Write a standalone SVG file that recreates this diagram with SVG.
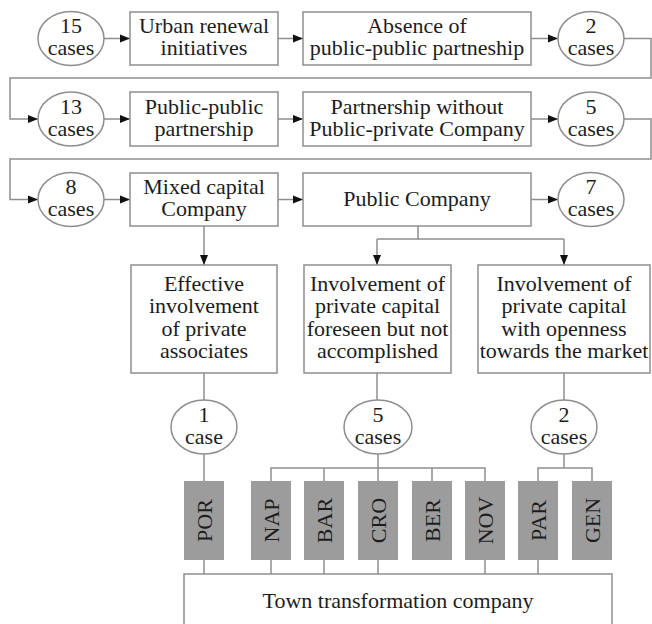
<svg xmlns="http://www.w3.org/2000/svg" width="652" height="624" viewBox="0 0 652 624">
<defs>
<style>
.box{fill:#fff;stroke:#8e8e8e;stroke-width:1.5}
.ell{fill:#fff;stroke:#8e8e8e;stroke-width:1.5}
.city{fill:#9c9c9c;stroke:none}
.ln{fill:none;stroke:#8e8e8e;stroke-width:1.5}
.arr{fill:none;stroke:#8e8e8e;stroke-width:1.5;marker-end:url(#ah)}
text{font-family:"Liberation Serif","Times New Roman",serif;font-size:22px;fill:#1c1c1c;text-anchor:middle}
</style>
<marker id="ah" markerUnits="userSpaceOnUse" markerWidth="10" markerHeight="10" viewBox="0 0 10 10" refX="10" refY="5" orient="auto">
<path d="M0,1 L10,5 L0,9 Z" fill="#111"/>
</marker>
</defs>
<rect width="652" height="624" fill="#fff"/>
<g id="connectors">
<path class="arr" d="M104,38.5 H130"/>
<path class="arr" d="M278,38.5 H303"/>
<path class="arr" d="M531,38.5 H558"/>
<path class="arr" d="M624,38.5 H651 V78 H10 V119 H38"/>
<path class="arr" d="M104,119 H130"/>
<path class="arr" d="M278,119 H303"/>
<path class="arr" d="M531,119 H558"/>
<path class="arr" d="M624,119 H651 V159 H10 V199.5 H38"/>
<path class="arr" d="M104,199.5 H130"/>
<path class="arr" d="M278,199.5 H303"/>
<path class="arr" d="M531,199.5 H558"/>
<path class="arr" d="M204,226 V265"/>
<path class="ln" d="M418,226 V239 H377"/>
<path class="arr" d="M377,239 V265"/>
<path class="ln" d="M418,239 H564"/>
<path class="arr" d="M564,239 V265"/>
<path class="ln" d="M204,373 V400"/>
<path class="ln" d="M377,373 V400"/>
<path class="ln" d="M564,373 V400"/>
<path class="ln" d="M204,454 V481"/>
<path class="ln" d="M378,454 V481"/>
<path class="ln" d="M271,481 V468 H485 V481"/>
<path class="ln" d="M324,468 V481"/>
<path class="ln" d="M432,468 V481"/>
<path class="ln" d="M564,454 V468"/>
<path class="ln" d="M538,481 V468 H592 V481"/>
<path class="ln" d="M204,560 V574"/>
<path class="ln" d="M271,560 V574"/>
<path class="ln" d="M324,560 V574"/>
<path class="ln" d="M378,560 V574"/>
<path class="ln" d="M485,560 V574"/>
<path class="ln" d="M538,560 V574"/>
</g>
<g id="n15"><ellipse class="ell" cx="71" cy="38.5" rx="33" ry="27"/><text x="71" y="33">15<tspan x="71" dy="22">cases</tspan></text></g>
<g id="urban"><rect class="box" x="130" y="12" width="148" height="53"/><text x="204" y="33">Urban renewal<tspan x="204" dy="22">initiatives</tspan></text></g>
<g id="absence"><rect class="box" x="303" y="12" width="228" height="53"/><text x="417" y="33">Absence of<tspan x="417" dy="22">public-public partneship</tspan></text></g>
<g id="n2a"><ellipse class="ell" cx="591" cy="38.5" rx="33" ry="27"/><text x="591" y="33">2<tspan x="591" dy="22">cases</tspan></text></g>
<g id="n13"><ellipse class="ell" cx="71" cy="119" rx="33" ry="27"/><text x="71" y="113.5">13<tspan x="71" dy="22">cases</tspan></text></g>
<g id="ppp"><rect class="box" x="130" y="92" width="148" height="54"/><text x="204" y="113.5">Public-public<tspan x="204" dy="22">partnership</tspan></text></g>
<g id="without"><rect class="box" x="303" y="92" width="228" height="54"/><text x="417" y="113.5">Partnership without<tspan x="417" dy="22">Public-private Company</tspan></text></g>
<g id="n5a"><ellipse class="ell" cx="591" cy="119" rx="33" ry="27"/><text x="591" y="113.5">5<tspan x="591" dy="22">cases</tspan></text></g>
<g id="n8"><ellipse class="ell" cx="71" cy="199.5" rx="33" ry="27"/><text x="71" y="194">8<tspan x="71" dy="22">cases</tspan></text></g>
<g id="mixed"><rect class="box" x="130" y="173" width="148" height="53"/><text x="204" y="194">Mixed capital<tspan x="204" dy="22">Company</tspan></text></g>
<g id="public"><rect class="box" x="303" y="173" width="228" height="53"/><text x="417" y="206">Public Company</text></g>
<g id="n7"><ellipse class="ell" cx="591" cy="199.5" rx="33" ry="27"/><text x="591" y="194">7<tspan x="591" dy="22">cases</tspan></text></g>
<g id="effective"><rect class="box" x="131" y="265" width="146" height="108"/><text x="204" y="290.5">Effective<tspan x="204" dy="22.5">involvement</tspan><tspan x="204" dy="22.5">of private</tspan><tspan x="204" dy="22.5">associates</tspan></text></g>
<g id="foreseen"><rect class="box" x="304" y="265" width="147" height="108"/><text x="377.5" y="290.5">Involvement of<tspan x="377.5" dy="22.5">private capital</tspan><tspan x="377.5" dy="22.5">foreseen but not</tspan><tspan x="377.5" dy="22.5">accomplished</tspan></text></g>
<g id="market"><rect class="box" x="478" y="265" width="172" height="108"/><text x="564" y="290.5">Involvement of<tspan x="564" dy="22.5">private capital</tspan><tspan x="564" dy="22.5">with openness</tspan><tspan x="564" dy="22.5">towards the market</tspan></text></g>
<g id="n1"><ellipse class="ell" cx="204" cy="427" rx="33" ry="27"/><text x="204" y="422">1<tspan x="204" dy="22">case</tspan></text></g>
<g id="n5b"><ellipse class="ell" cx="378" cy="427" rx="34" ry="27"/><text x="378" y="422">5<tspan x="378" dy="22">cases</tspan></text></g>
<g id="n2b"><ellipse class="ell" cx="564" cy="427" rx="33" ry="27"/><text x="564" y="422">2<tspan x="564" dy="22">cases</tspan></text></g>
<g id="por"><rect class="city" x="184" y="481" width="40" height="79"/><text transform="translate(212,520.5) rotate(-90)">POR</text></g>
<g id="nap"><rect class="city" x="251" y="481" width="40" height="79"/><text transform="translate(279,520.5) rotate(-90)">NAP</text></g>
<g id="bar"><rect class="city" x="304" y="481" width="40" height="79"/><text transform="translate(332,520.5) rotate(-90)">BAR</text></g>
<g id="cro"><rect class="city" x="358" y="481" width="40" height="79"/><text transform="translate(386,520.5) rotate(-90)">CRO</text></g>
<g id="ber"><rect class="city" x="412" y="481" width="40" height="79"/><text transform="translate(440,520.5) rotate(-90)">BER</text></g>
<g id="nov"><rect class="city" x="465" y="481" width="40" height="79"/><text transform="translate(493,520.5) rotate(-90)">NOV</text></g>
<g id="par"><rect class="city" x="518" y="481" width="40" height="79"/><text transform="translate(546,520.5) rotate(-90)">PAR</text></g>
<g id="gen"><rect class="city" x="572" y="481" width="40" height="79"/><text transform="translate(600,520.5) rotate(-90)">GEN</text></g>
<g id="town"><rect class="box" x="184" y="574" width="428" height="60"/><text x="398" y="608">Town transformation company</text></g>
</svg>
